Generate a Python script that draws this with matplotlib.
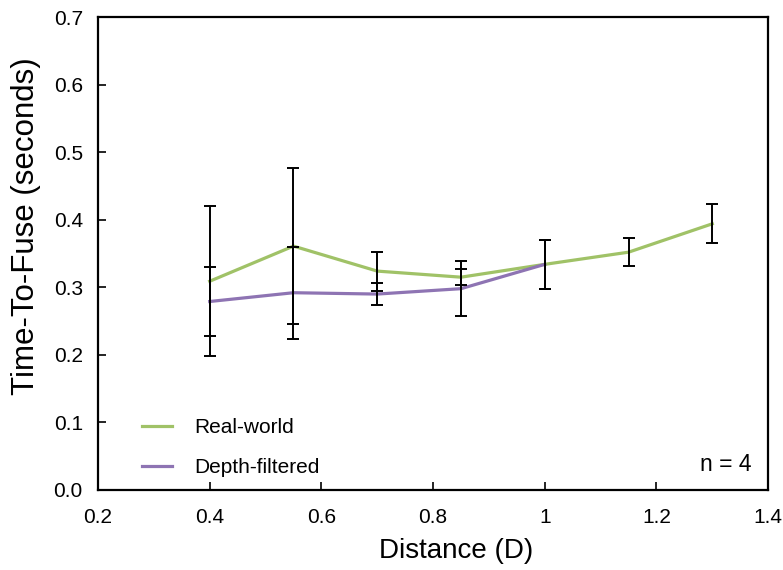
import matplotlib
matplotlib.use("Agg")
import matplotlib.pyplot as plt

# distances (D)
dist_real = [0.4, 0.55, 0.7, 0.85, 1.0, 1.15, 1.3]
ttf_real = [0.309, 0.361, 0.324, 0.315, 0.334, 0.352, 0.394]
err_real = [0.111, 0.115, 0.029, 0.012, 0.036, 0.021, 0.029]

dist_depth = [0.4, 0.55, 0.7, 0.85, 1.0]
ttf_depth = [0.279, 0.292, 0.290, 0.298, 0.334]
err_depth = [0.051, 0.068, 0.016, 0.041, 0.036]

xticks = [0.2, 0.4, 0.6, 0.8, 1.0, 1.2, 1.4]
xtick_labels = ["0.2", "0.4", "0.6", "0.8", "1", "1.2", "1.4"]
yticks = [0.0, 0.1, 0.2, 0.3, 0.4, 0.5, 0.6, 0.7]
ytick_labels = ["0.0", "0.1", "0.2", "0.3", "0.4", "0.5", "0.6", "0.7"]

GREEN = "#a0c267"
PURPLE = "#8e74b3"

plt.rcParams.update({
    "font.family": ["Liberation Sans", "DejaVu Sans"],
    "font.size": 15,
})

fig = plt.figure(figsize=(7.83, 5.70), dpi=100)
ax = fig.add_axes([0.1252, 0.1404, 0.8558, 0.8296])

ax.plot(dist_real, ttf_real, color=GREEN, linewidth=2.3, label="Real-world", zorder=2)
ax.plot(dist_depth, ttf_depth, color=PURPLE, linewidth=2.3, label="Depth-filtered", zorder=2)

ax.errorbar(dist_real, ttf_real, yerr=err_real, fmt="none", ecolor="black",
            elinewidth=1.4, capsize=4.5, capthick=1.4, zorder=3)
ax.errorbar(dist_depth, ttf_depth, yerr=err_depth, fmt="none", ecolor="black",
            elinewidth=1.4, capsize=4.5, capthick=1.4, zorder=3)

ax.set_xlim(0.2, 1.4)
ax.set_ylim(0.0, 0.7)
ax.set_xticks(xticks)
ax.set_xticklabels(xtick_labels)
ax.set_yticks(yticks)
ax.set_yticklabels(ytick_labels)
ax.tick_params(direction="in", length=6, width=1.2, labelsize=15)
ax.tick_params(axis="x", pad=13)
ax.tick_params(axis="y", pad=11)

for sp in ax.spines.values():
    sp.set_linewidth(1.6)

ax.set_xlabel("Distance (D)", fontsize=20, labelpad=8)
ax.xaxis.set_label_coords(0.535, -0.102)
ax.set_ylabel("Time-To-Fuse (seconds)", fontsize=22.5, labelpad=9)
ax.yaxis.set_label_coords(-0.085, 0.557)

ax.legend(loc="lower left", frameon=False, fontsize=15, handlelength=1.45,
          handletextpad=1.05, labelspacing=1.0, bbox_to_anchor=(0.038, 0.0))
ax.get_legend().set_bbox_to_anchor((0.038, -0.012), transform=ax.transAxes)

ax.text(0.975, 0.03, "n = 4", transform=ax.transAxes, ha="right", va="bottom",
        fontsize=16.5)

fig.savefig("out.png", dpi=100)
